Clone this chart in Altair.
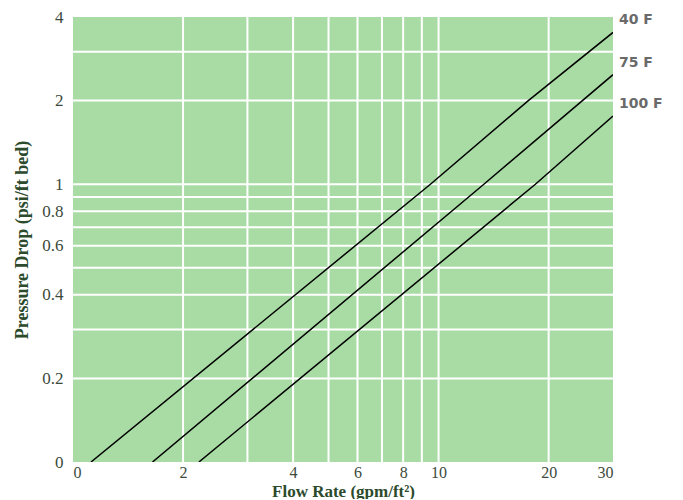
import altair as alt
import pandas as pd

# ---- data ----
x_grid = [2, 3, 4, 5, 6, 7, 8, 9, 10, 20]
y_grid = [0.2, 0.3, 0.4, 0.5, 0.6, 0.7, 0.8, 0.9, 1, 2, 3]
x_ticks = [1, 2, 4, 6, 8, 10, 20, 30]
y_ticks = [0.1, 0.2, 0.4, 0.6, 0.8, 1, 2, 4]

series = ["40 F", "75 F", "100 F"]
flow_40 = [1.12, 9.5, 17.6, 30]
dp_40 = [0.1, 1.0, 2.0, 3.52]
flow_75 = [1.65, 13.3, 30]
dp_75 = [0.1, 1.0, 2.48]
flow_100 = [2.21, 18.4, 30]
dp_100 = [0.1, 1.0, 1.76]

lines = pd.concat([
    pd.DataFrame({"flow": flow_40, "dp": dp_40, "series": series[0]}),
    pd.DataFrame({"flow": flow_75, "dp": dp_75, "series": series[1]}),
    pd.DataFrame({"flow": flow_100, "dp": dp_100, "series": series[2]}),
])
labels = pd.DataFrame({
    "flow": [flow_40[-1], flow_75[-1], flow_100[-1]],
    "dp": [dp_40[-1], dp_75[-1], dp_100[-1]],
    "series": series,
})

SERIF = "Liberation Serif"
LABEL_COLOR = "#3b4a3b"
TITLE_COLOR = "#2c4a2c"

xscale = alt.Scale(type="log", domain=[1, 30], nice=False)
yscale = alt.Scale(type="log", domain=[0.1, 4], nice=False)

xaxis = alt.Axis(values=x_ticks, labelExpr="datum.value == 1 ? '0' : datum.label",
                 title="Flow Rate (gpm/ft²)", grid=False, domain=False, ticks=False,
                 labelFont=SERIF, labelFontSize=16, labelColor=LABEL_COLOR, labelPadding=2,
                 labelOverlap=False,
                 titleFont=SERIF, titleFontSize=17, titleFontWeight="bold", titleColor=TITLE_COLOR,
                 titlePadding=3)
yaxis = alt.Axis(values=y_ticks, labelExpr="datum.value == 0.1 ? '0' : datum.label",
                 title="Pressure Drop (psi/ft bed)", grid=False, domain=False, ticks=False,
                 labelFont=SERIF, labelFontSize=17, labelColor=LABEL_COLOR, labelPadding=10,
                 labelOverlap=False,
                 titleFont=SERIF, titleFontSize=18, titleFontWeight="bold", titleColor=TITLE_COLOR,
                 titlePadding=10)


def X(field):
    return alt.X(f"{field}:Q", scale=xscale, axis=xaxis)


def Y(field):
    return alt.Y(f"{field}:Q", scale=yscale, axis=yaxis)


xg = alt.Chart(pd.DataFrame({"v": x_grid})).mark_rule(color="white", strokeWidth=2).encode(x=X("v"))
yg = alt.Chart(pd.DataFrame({"v": y_grid})).mark_rule(color="white", strokeWidth=2).encode(y=Y("v"))

ln = alt.Chart(lines).mark_line(color="black", strokeWidth=1.5, clip=True).encode(
    x=X("flow"), y=Y("dp"), detail="series:N")

tx = alt.Chart(labels).mark_text(align="left", baseline="middle", dx=6, dy=-12,
                                 font="DejaVu Sans", fontSize=14, fontWeight="bold",
                                 color="#6a6a6a").encode(
    x=X("flow"), y=Y("dp"), text="series:N")

chart = alt.layer(xg, yg, ln, tx).properties(
    width=540, height=445, background="white",
    padding={"left": 5, "top": 0, "right": 5, "bottom": 0},
).configure_view(fill="#a9dca4", stroke=None)

chart.save("out.html", embed_options={"renderer": "svg", "actions": False})
